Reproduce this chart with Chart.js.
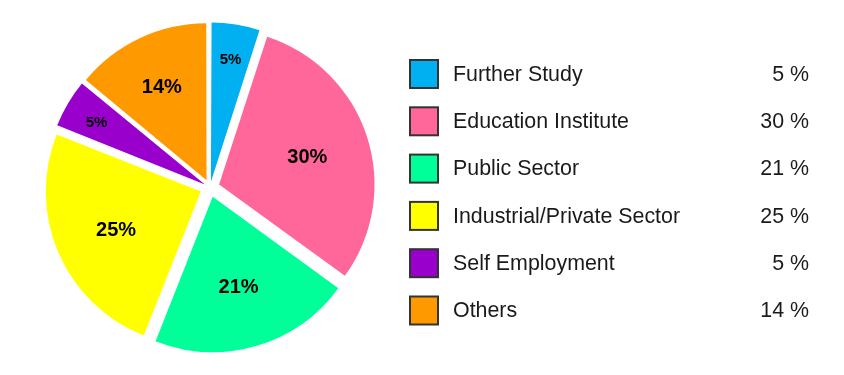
<!DOCTYPE html>
<html>
<head>
<meta charset="utf-8">
<script src="https://cdn.jsdelivr.net/npm/chart.js@4/dist/chart.umd.min.js"></script>
<style>
  html, body { margin: 0; padding: 0; background: #fff; }
  #wrap { position: relative; width: 844px; height: 375px; }
</style>
</head>
<body>
<div id="wrap">
  <canvas id="myChart" width="844" height="375"></canvas>
</div>
<script>
const categories = ['Further Study', 'Education Institute', 'Public Sector', 'Industrial/Private Sector', 'Self Employment', 'Others'];
const shares = [5, 30, 21, 25, 5, 14];
const sliceColors = ['#00B0F0', '#FF6699', '#00FF99', '#FFFF00', '#9900CC', '#FF9900'];

// chart.js pushes narrow slices out further, keep every slice ~10px out
const sliceOffset = (c) => {
    const circ = shares[c.dataIndex] / 100 * Math.PI * 2;
    return 40 / (2 - Math.sin(Math.min(Math.PI, circ)));
};

// percent labels inside the slices
const sliceLabels = {
    id: 'sliceLabels',
    afterDatasetsDraw(chart) {
        const ctx = chart.ctx;
        const meta = chart.getDatasetMeta(0);
        meta.data.forEach((arc, i) => {
            const v = shares[i];
            const mid = (arc.startAngle + arc.endAngle) / 2;
            let frac = 0.66;
            if (v < 10) frac = 0.85;
            else if (v < 18) frac = 0.73;
            const r = arc.outerRadius * frac;
            const x = arc.x + Math.cos(mid) * r;
            const y = arc.y + Math.sin(mid) * r;
            ctx.save();
            ctx.fillStyle = '#000';
            ctx.font = 'bold ' + (v < 10 ? 15 : 20) + 'px "Liberation Sans", Arial, sans-serif';
            ctx.textAlign = 'center';
            ctx.textBaseline = 'middle';
            ctx.fillText(v + '%', x, y + 2);
            ctx.restore();
        });
    }
};

// legend on the right with values
const sideLegend = {
    id: 'sideLegend',
    afterDraw(chart) {
        const ctx = chart.ctx;
        ctx.save();
        categories.forEach((name, i) => {
            const top = 60 + i * 47.3;
            ctx.fillStyle = sliceColors[i];
            ctx.fillRect(410, top, 28, 28);
            ctx.strokeStyle = '#333';
            ctx.lineWidth = 2;
            ctx.strokeRect(410, top, 28, 28);
            ctx.fillStyle = '#1a1a1a';
            ctx.font = '21.4px "Liberation Sans", Arial, sans-serif';
            ctx.textBaseline = 'middle';
            ctx.textAlign = 'left';
            ctx.fillText(name, 453, top + 15);
            ctx.textAlign = 'right';
            ctx.fillText(shares[i] + ' %', 809, top + 15);
        });
        ctx.restore();
    }
};

const ctx = document.getElementById('myChart').getContext('2d');
const myChart = new Chart(ctx, {
    type: 'pie',
    data: {
        labels: categories,
        datasets: [{
            data: shares,
            backgroundColor: sliceColors,
            borderWidth: 0,
            offset: sliceOffset,
            hoverOffset: 0
        }]
    },
    options: {
        responsive: false,
        animation: false,
        radius: 155,
        layout: {
            padding: { left: 0, right: 424, top: 0, bottom: 0 }
        },
        plugins: {
            legend: { display: false },
            tooltip: { enabled: false }
        }
    },
    plugins: [sliceLabels, sideLegend]
});
</script>
</body>
</html>
